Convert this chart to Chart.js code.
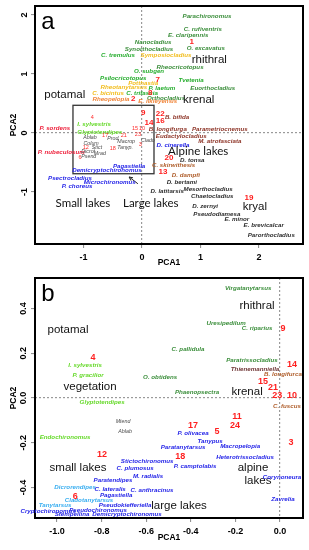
<!DOCTYPE html>
<html><head><meta charset="utf-8">
<script src="https://cdn.jsdelivr.net/npm/chart.js@4.4.1/dist/chart.umd.min.js"></script>
<style>
body{margin:0;background:#fff;overflow:hidden}
#wa{position:absolute;left:0;top:0;width:309px;height:272px}
#wb{position:absolute;left:0;top:272px;width:309px;height:278px}
</style></head><body>
<div id="wa"><canvas id="ca" width="309" height="272"></canvas></div>
<div id="wb"><canvas id="cb" width="309" height="278"></canvas></div>
<script>
// ===== DATA: panel a =====
const ticksXA = [-1, 0, 1, 2];
const ticksYA = [-1, 0, 1, 2];
const termsA = ['Parachironomus','C. rufiventris','E. claripennis','1','O. excavatus','rhithral','Nanocladius','Synorthocladius','C. tremulus','Symposiocladius','O. subgen','Rheocricotopus','Tvetenia','Euorthocladius','Psilocricotopus','Potthastia','7','P. laetum','Rheotanytarsus','C. bicintus','C. trifascia','8','Orthocladius','potamal','Rheopelopia','2','E. ilkleyensis','krenal','P. sordens','9','14','22','16','B. bifida','B. longifurga','Parametriocnemus','Eudactylocladius','M. atrofasciata','D. cinerella','Alpine lakes','20','D. tonsa','C. skirwithesis','13','D. dampfi','D. bertami','D. latitarsis','Mesorthocladius','Chaetocladius','19','kryal','D. zernyi','Pseudodiamesa','E. minor','E. brevicalcar','Parorthocladius','Small lakes','Large lakes','Pagastiella','Demicryptochironomus','Psectrocladius','Microchironomus','P. choreus','P. nubeculosum','4','I. sylvestris','Glyptotendipes','17','Ablab','Colum','Stict','Prod','21','15','23','10','Macrop','Tanyp.','3','Clado','12','Dicrot','Mrad','18','Psend','6'];
const xA = [1.11,1.04,0.79,0.85,1.09,1.15,0.19,0.12,-0.41,0.41,0.12,0.65,0.84,1.21,-0.32,0.02,0.27,0.34,-0.31,-0.58,0.0,0.14,0.41,-1.32,-0.53,-0.15,0.27,0.97,-1.49,0.02,0.12,0.31,0.31,0.60,0.44,1.33,0.67,1.33,0.53,0.96,0.46,0.86,0.54,0.36,0.75,0.68,0.43,1.13,1.20,1.83,1.93,1.08,1.28,1.62,2.08,2.21,-1.01,0.15,-0.22,-0.60,-1.23,-0.55,-1.11,-1.38,-0.85,-0.82,-0.72,-0.63,-0.89,-0.87,-0.77,-0.50,-0.31,-0.12,-0.07,0.0,-0.27,-0.29,-0.03,0.10,-0.96,-0.92,-0.72,-0.50,-0.91,-1.06];
const yA = [1.98,1.76,1.66,1.54,1.44,1.24,1.53,1.42,1.32,1.32,1.05,1.12,0.90,0.76,0.93,0.85,0.90,0.75,0.78,0.68,0.68,0.68,0.59,0.64,0.58,0.58,0.54,0.56,0.08,0.34,0.17,0.32,0.20,0.27,0.07,0.07,-0.05,-0.14,-0.20,-0.31,-0.42,-0.47,-0.54,-0.66,-0.71,-0.83,-0.98,-0.95,-1.07,-1.10,-1.25,-1.25,-1.37,-1.47,-1.56,-1.73,-1.19,-1.19,-0.56,-0.64,-0.76,-0.83,-0.90,-0.32,0.27,0.14,0.02,-0.05,-0.07,-0.17,-0.24,-0.10,-0.05,0.08,-0.02,0.08,-0.15,-0.24,-0.20,-0.12,-0.24,-0.32,-0.34,-0.27,-0.39,-0.42];
const groupA = ['g1','g1','g1','num','g1','big','g1','g1','g2','yel','g2','g1','g2','g1','g2','yel','num','g2','yel','yel','g2','num','g1','big','ora','num','ora','big','red','num','num','num','num','brn','brn','brn','brn','brn','blu','bigL','num','dk','brn2','num','brn2','dk','dk','dk','dk','num','big','dk','dk','dk','dk','dk','bigL','bigL','blu','blu','blu','blu','blu','red','nums','lg','lg','nums','gry','gry','gry','gry','nums','nums','nums','nums','gry','gry','nums','gry','nums','gry','gry','nums','gry','nums'];
const insetA = [-1.18, -0.69, 0.205, 0.47];   // x0, y0, x1, y1 (data units)
const arrowA = [-0.07, -0.86, -0.22, -0.745]; // from x,y to x,y (data units)

// ===== DATA: panel b =====
const ticksXB = [-1.0, -0.8, -0.6, -0.4, -0.2, 0.0];
const ticksYB = [-0.4, -0.2, 0.0, 0.2, 0.4];
const termsB = ['Virgatanytarsus','rhithral','Uresipedilum','C. riparius','9','C. pallidula','Paratrissocladius','14','Thienemanniella','B. longifurca','15','21','Phaenopsectra','krenal','23','10','C. fuscus','O. obtidens','potamal','4','I. sylvestris','P. gracilior','vegetation','Glyptotendipes','Mtend','Ablab','Endochironomus','12','small lakes','Stictochironomus','C. plumosus','M. radialis','Paratendipes','Dicrorendipes','C. lateralis','C. anthracinus','6','Pagastiella','Cladotanytarsus','Tanytarsus','Pseudokiefferiella','Cryptochironomus','Pseudochironomus','Stempellina','Demicryptochironomus','large lakes','11','24','17','P. olivacea','5','Tanypus','Paratanytarsus','Macropelopia','3','18','P. camptolabis','Heterotrissocladius','alpine','lakes','Corynoneura','Zavrelia'];
const xB = [-0.143,-0.103,-0.242,-0.103,0.013,-0.413,-0.126,0.054,-0.112,0.013,-0.076,-0.031,-0.372,-0.148,-0.013,0.054,0.031,-0.538,-0.951,-0.839,-0.874,-0.861,-0.852,-0.798,-0.704,-0.695,-0.964,-0.798,-0.906,-0.596,-0.650,-0.592,-0.749,-0.919,-0.762,-0.574,-0.919,-0.735,-0.857,-1.009,-0.695,-1.040,-0.816,-0.933,-0.686,-0.453,-0.193,-0.202,-0.390,-0.390,-0.283,-0.314,-0.435,-0.179,0.049,-0.448,-0.381,-0.157,-0.121,-0.099,0.009,0.013];
const yB = [0.492,0.412,0.336,0.313,0.313,0.219,0.170,0.152,0.130,0.107,0.076,0.045,0.027,0.027,0.009,0.009,-0.036,0.094,0.304,0.183,0.148,0.103,0.049,-0.018,-0.107,-0.152,-0.174,-0.255,-0.313,-0.282,-0.313,-0.349,-0.367,-0.398,-0.407,-0.412,-0.443,-0.434,-0.456,-0.479,-0.479,-0.506,-0.501,-0.519,-0.519,-0.483,-0.085,-0.121,-0.121,-0.157,-0.148,-0.192,-0.219,-0.215,-0.197,-0.264,-0.304,-0.264,-0.313,-0.371,-0.353,-0.452];
const groupB = ['g1','big','g1','g1','numb','g1','g1','numb','brnd','brn2','numb','numb','g1','big','numb','numb','brn2','g1','big','numb','lg','lg','big','lg','gry','gry','lg','numb','big','blu','blu','blu','blu','cya','blu','blu','numb','blu','cya','cya','blu','blu','blu','blu','blu','big','numb','numb','numb','blu','numb','blu','blu','blu','numb','numb','blu','blu','big','big','blu','blu'];

// ===== STYLES =====
const SP = 'italic bold 6.2px "Liberation Sans", Arial, sans-serif';
const STYLES = {
  g1:  {c:'#3b8e3b', f:SP},
  g2:  {c:'#26ad2e', f:SP},
  lg:  {c:'#66d92a', f:SP},
  yel: {c:'#f2bd1e', f:SP},
  ora: {c:'#f0853a', f:SP},
  red: {c:'#ee1f3a', f:SP},
  brn: {c:'#8e3528', f:SP},
  brn2:{c:'#b0602e', f:SP},
  brnd:{c:'#6e3434', f:SP},
  dk:  {c:'#2e2e2e', f:SP},
  blu: {c:'#2626e8', f:SP},
  cya: {c:'#39aef0', f:SP},
  gry: {c:'#4a4a4a', f:'italic 5.3px "Liberation Sans", Arial, sans-serif'},
  num: {c:'#ff1f1f', f:'bold 8px "Liberation Sans", Arial, sans-serif'},
  numb:{c:'#ff1f1f', f:'bold 9px "Liberation Sans", Arial, sans-serif'},
  nums:{c:'#ff2a2a', f:'5.5px "Liberation Sans", Arial, sans-serif'},
  big: {c:'#111', f:'11.5px "Liberation Sans", Arial, sans-serif'},
  bigL:{c:'#111', f:'11.5px Lato, sans-serif'}
};

function makePlugin(terms, groups, letter, yTickX, extra){
  return {
    id:'labels',
    afterDraw(chart){
      const ctx = chart.ctx, ca = chart.chartArea;
      const xs = chart.scales.x, ys = chart.scales.y;
      ctx.save();
      if (extra) extra(ctx, xs, ys);
      // frame
      ctx.strokeStyle = '#000'; ctx.lineWidth = 2;
      ctx.strokeRect(ca.left, ca.top, ca.right - ca.left, ca.bottom - ca.top);
      // y tick labels (rotated)
      ctx.fillStyle = '#000'; ctx.font = 'bold 9px "Liberation Sans", Arial, sans-serif';
      ctx.textAlign = 'center'; ctx.textBaseline = 'middle';
      ys.ticks.forEach(t => {
        const py = ys.getPixelForValue(t.value);
        ctx.save(); ctx.translate(yTickX, py); ctx.rotate(-Math.PI/2);
        ctx.fillText(ys.options.ticks.callback(t.value), 0, 0); ctx.restore();
      });
      // panel letter
      ctx.font = '24px "Liberation Sans", Arial, sans-serif';
      ctx.fillText(letter, ca.left + 13, ca.top + 16);
      // text marks
      const meta = chart.getDatasetMeta(0);
      meta.data.forEach((el, i) => {
        const st = STYLES[groups[i]];
        ctx.font = st.f; ctx.fillStyle = st.c;
        ctx.fillText(terms[i], el.x, el.y);
      });
      ctx.restore();
    }
  };
}

function makeChart(id, terms, xs, ys, groups, rng, ticksX, ticksY, fmt, letter, xAxisH, yTickX, titleXPad, extra){
  return new Chart(document.getElementById(id), {
    type:'scatter',
    data:{datasets:[{data: xs.map((x,i)=>({x, y: ys[i]})), pointRadius:0, pointHoverRadius:0}]},
    options:{
      responsive:false, animation:false, devicePixelRatio:1,
      layout:{padding:{left:0, top:6, right:6, bottom:0}},
      plugins:{legend:{display:false}, tooltip:{enabled:false}},
      scales:{
        x:{type:'linear', min:rng[0], max:rng[1],
           afterBuildTicks:s=>{s.ticks = ticksX.map(v=>({value:v}));},
           afterFit:s=>{s.height = xAxisH;},
           ticks:{color:'#000', font:{family:'"Liberation Sans", Arial', size:9, weight:'bold'}, padding:4, maxRotation:0, callback:fmt},
           grid:{color:c=>(c.tick && c.tick.value===0)?'#9a9a9a':'rgba(0,0,0,0)', tickColor:'#888', tickLength:4, lineWidth:1.2, tickWidth:1},
           border:{display:false, dash:[2,2]},
           title:{display:true, text:'PCA1', color:'#000', font:{family:'"Liberation Sans", Arial', size:8.5, weight:'bold'}, padding:{top:0, bottom:titleXPad}}
        },
        y:{type:'linear', min:rng[2], max:rng[3],
           afterBuildTicks:s=>{s.ticks = ticksY.map(v=>({value:v}));},
           afterFit:s=>{s.width = 35;},
           ticks:{display:false, callback:fmt},
           grid:{color:c=>(c.tick && c.tick.value===0)?'#9a9a9a':'rgba(0,0,0,0)', tickColor:'#888', tickLength:4, lineWidth:1.2, tickWidth:1},
           border:{display:false, dash:[2,2]},
           title:{display:true, text:'PCA2', color:'#000', font:{family:'"Liberation Sans", Arial', size:8.5, weight:'bold'}, padding:{top:9, bottom:0}}
        }
      }
    },
    plugins:[makePlugin(terms, groups, letter, yTickX, extra)]
  });
}

const fmtA = v => String(v);
const fmtB = v => (Math.abs(v) < 1e-9 ? 0 : v).toFixed(1);

makeChart('ca', termsA, xA, yA, groupA, [-1.829, 2.752, -1.881, 2.153], ticksXA, ticksYA, fmtA, 'a', 28, 25, 4,
  (ctx, xs, ys) => {
    // inset rectangle
    const x0 = xs.getPixelForValue(insetA[0]), y0 = ys.getPixelForValue(insetA[1]);
    const x1 = xs.getPixelForValue(insetA[2]), y1 = ys.getPixelForValue(insetA[3]);
    ctx.strokeStyle = '#333'; ctx.lineWidth = 1.3;
    ctx.strokeRect(x0, y1, x1 - x0, y0 - y1);
    // arrow
    const ax = xs.getPixelForValue(arrowA[0]), ay = ys.getPixelForValue(arrowA[1]);
    const bx = xs.getPixelForValue(arrowA[2]), by = ys.getPixelForValue(arrowA[3]);
    ctx.strokeStyle = '#222'; ctx.lineWidth = 1;
    ctx.beginPath(); ctx.moveTo(ax, ay); ctx.lineTo(bx, by); ctx.stroke();
    const ang = Math.atan2(by - ay, bx - ax);
    ctx.beginPath();
    ctx.moveTo(bx - 4*Math.cos(ang - 0.45), by - 4*Math.sin(ang - 0.45));
    ctx.lineTo(bx, by);
    ctx.lineTo(bx - 4*Math.cos(ang + 0.45), by - 4*Math.sin(ang + 0.45));
    ctx.stroke();
  });
makeChart('cb', termsB, xB, yB, groupB, [-1.099, 0.103, -0.537, 0.537], ticksXB, ticksYB, fmtB, 'b', 32, 23.5, 7, null);
</script>
</body></html>
